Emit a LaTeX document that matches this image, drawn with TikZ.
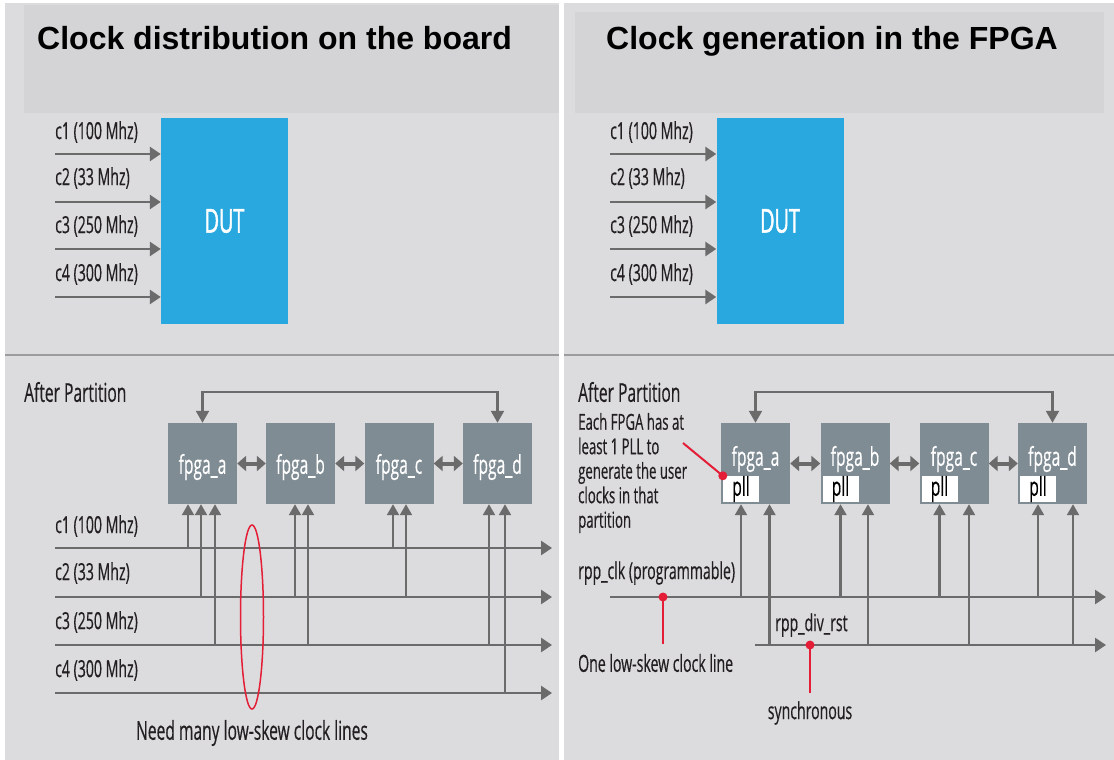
\documentclass[tikz,border=0pt]{standalone}
\usepackage{fontspec}
\usetikzlibrary{arrows.meta}
\newfontfamily\headfont{Liberation Sans}
\newfontfamily\lblfont{Open Sans}[FakeStretch=0.6, FakeBold=0.4]
\newfontfamily\dutfont{Open Sans}[FakeStretch=0.6, FakeBold=1.4]

\definecolor{panelbg}{HTML}{DCDCDE}
\definecolor{bandbg}{HTML}{D4D4D6}
\definecolor{sepline}{HTML}{9C9C9C}
\definecolor{dutblue}{HTML}{29A8E0}
\definecolor{fpgagray}{HTML}{808C94}
\definecolor{wire}{HTML}{6B6B6B}
\definecolor{calloutred}{HTML}{E41E36}
\definecolor{ink}{HTML}{231F20}

\begin{document}
\begin{tikzpicture}[x=1pt,y=-1pt,
  lbl/.style={font=\lblfont\fontsize{23.5}{27}\selectfont, text=ink, inner sep=0pt, anchor=west},
  biglbl/.style={font=\lblfont\fontsize{26}{30}\selectfont, text=ink, inner sep=0pt, anchor=west},
  note/.style={font=\lblfont\fontsize{22}{24.5}\selectfont, text=ink, inner sep=0pt, anchor=west, align=left},
  head/.style={font=\headfont\bfseries\fontsize{32}{36}\selectfont, text=black, inner sep=0pt, anchor=base west},
  dut/.style={fill=dutblue, minimum width=127pt, minimum height=206pt, inner sep=0pt,
    text=white, font=\dutfont\fontsize{33}{37}\selectfont},
  fpga/.style={fill=fpgagray, minimum width=69pt, minimum height=81pt, inner sep=0pt},
  fpgatxt/.style={text=white, inner sep=0pt, font=\lblfont\fontsize{26}{30}\selectfont},
  pll/.style={fill=white, minimum width=36pt, minimum height=24pt, inner sep=0pt,
    text=black, font=\lblfont\fontsize{26}{30}\selectfont},
  clk/.style={draw=wire, line width=2.8pt, -{Triangle[length=11pt,width=14pt]}},
  vin/.style={draw=wire, line width=2.2pt, -{Triangle[length=11pt,width=12pt]}},
  dbl/.style={draw=wire, line width=4pt, {Triangle[length=9pt,width=15pt]}-{Triangle[length=9pt,width=15pt]}},
  fb/.style={draw=wire, line width=2.2pt, {Triangle[length=12pt,width=13pt]}-{Triangle[length=12pt,width=13pt]}},
  redline/.style={draw=calloutred, line width=2pt},
]
% page, panels and title bands
\fill[white] (0,0) rectangle (1114,760);
\useasboundingbox (0,0) rectangle (1114,760);
\fill[panelbg] (5,3) rectangle (559,760);
\fill[panelbg] (564,3) rectangle (1114,760);
\fill[bandbg] (24,5) rectangle (559,113);
\fill[bandbg] (575,12) rectangle (1104,113);
\draw[sepline, line width=2.5pt] (5,355) -- (559,355);
\draw[sepline, line width=2.5pt] (564,355) -- (1114,355);

\node[head] (titleL) at (37,50) {Clock distribution on the board};
\node[head] (titleR) at (606,50) {Clock generation in the FPGA};

% ---- top: DUT with four clock inputs ----
\node[dut] (dutL) at (224.5,221) {DUT};
\node[dut] (dutR) at (780,221) {DUT};
\foreach \i/\f/\ly/\ay in {1/100/132/154, 2/33/178/202, 3/250/226/249, 4/300/274/297} {
  \node[lbl] (tlL\i) at (55,\ly) {c\i\ (\f\ Mhz)};
  \coordinate (tsL\i) at (55,\ay);
  \draw[clk] (tsL\i) -- (tsL\i -| dutL.west);
  \node[lbl] (tlR\i) at (610,\ly) {c\i\ (\f\ Mhz)};
  \coordinate (tsR\i) at (610,\ay);
  \draw[clk] (tsR\i) -- (tsR\i -| dutR.west);
}

% ---- bottom left: board clock distribution ----
\node[biglbl] (partL) at (24,392) {After Partition};
\foreach \n/\x in {a/202.5, b/300.5, c/399, d/497.5} {
  \node[fpga] (l\n) at (\x,463.5) {};
  \node[fpgatxt] (l\n-t) at (\x,467) {fpga\_\n};
}
\draw[dbl] (la) -- (lb);
\draw[dbl] (lb) -- (lc);
\draw[dbl] (lc) -- (ld);
\draw[fb] (la.north) |- ([yshift=31pt]ld.north) -- (ld.north);

\foreach \i/\f/\ly/\ay in {1/100/526/548, 2/33/573/597, 3/250/622/645, 4/300/670/693} {
  \node[lbl] (blL\i) at (55,\ly) {c\i\ (\f\ Mhz)};
  \coordinate (bs\i) at (55,\ay);
  \coordinate (be\i) at (552,\ay);
  \draw[clk] (bs\i) -- (be\i);
}
% taps from the clock lines into each FPGA
\foreach \n/\dx/\src in {a/-14.5/1, a/-1.5/2, a/12.5/3, b/-5.5/2, b/7.5/3,
                         c/-6/1, c/7/2, d/-8.5/3, d/7.5/4} {
  \coordinate (tap) at ([xshift=\dx pt]l\n.south);
  \draw[vin] (tap |- bs\src) -- (tap);
}
\draw[calloutred, line width=1.5pt] (252,617) ellipse [x radius=11.5, y radius=92];
\node[biglbl, anchor=center] (needL) at (252,733) {Need many low-skew clock lines};

% ---- bottom right: clock generation inside each FPGA ----
\node[biglbl] (partR) at (578,392) {After Partition};
\node[note] (pllnote) at (578,473) {Each FPGA has at\\least 1 PLL to\\generate the user\\clocks in that\\partition};
\foreach \n/\x in {a/755.5, b/855, c/954, d/1052.5} {
  \node[fpga] (r\n) at (\x,463.5) {};
  \node[fpgatxt] (r\n-t) at (\x,459) {fpga\_\n};
  \node[pll, anchor=south west] (r\n-p) at ([xshift=2pt,yshift=2pt]r\n.south west) {pll};
}
\draw[dbl] (ra) -- (rb);
\draw[dbl] (rb) -- (rc);
\draw[dbl] (rc) -- (rd);
\draw[fb] (ra.north) |- ([yshift=31pt]rd.north) -- (rd.north);

\node[lbl] (clkR) at (578,573) {rpp\_clk (programmable)};
\node[lbl] (rstR) at (775,625) {rpp\_div\_rst};
\coordinate (rcs) at (610,597);
\coordinate (rce) at (1106,597);
\coordinate (rrs) at (755,645);
\coordinate (rre) at (1106,645);
\draw[clk] (rcs) -- (rce);
\draw[clk] (rrs) -- (rre);
\foreach \n in {a,b,c,d} {
  \draw[vin] (r\n-p.south |- rcs) -- (r\n-p.south |- r\n.south);
}
\foreach \n/\dx in {a/14, b/13, c/15, d/20.5} {
  \coordinate (rtap) at ([xshift=\dx pt]r\n.south);
  \draw[vin] (rtap |- rrs) -- (rtap);
}

% red call-outs
\coordinate (notept) at (683,443);
\draw[redline] (notept) -- (ra-p.north west);
\fill[calloutred] (ra-p.north west) circle (4.5);

\coordinate (clkdot) at (663,597);
\coordinate (clkpin) at (663,644);
\draw[redline] (clkdot) -- (clkpin);
\fill[calloutred] (clkdot) circle (4.5);
\node[lbl] (oneR) at (578,663) {One low-skew clock line};

\coordinate (rstdot) at (810,645);
\coordinate (rstpin) at (810,693);
\draw[redline] (rstdot) -- (rstpin);
\fill[calloutred] (rstdot) circle (4.5);
\node[lbl, anchor=center] (syncR) at (810,713) {synchronous};
\end{tikzpicture}
\end{document}
